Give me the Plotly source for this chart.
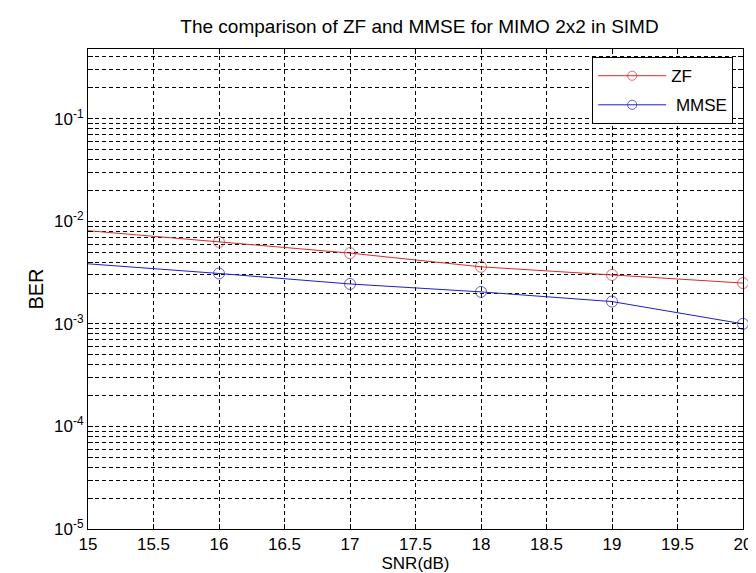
import plotly.graph_objects as go

snr = [15, 16, 17, 18, 19, 20]
ber_zf = [8.1e-3, 6.3e-3, 4.9e-3, 3.6e-3, 3.0e-3, 2.5e-3]
ber_mmse = [3.85e-3, 3.1e-3, 2.45e-3, 2.05e-3, 1.65e-3, 1.0e-3]
x_ticks = [15, 15.5, 16, 16.5, 17, 17.5, 18, 18.5, 19, 19.5, 20]
decades = [-5, -4, -3, -2, -1]

marker_sizes = [0] + [11] * (len(snr) - 1)

y_vals, y_text = [], []
for d in decades:
    for k in range(1, 10):
        v = k * 10.0 ** d
        if v > 0.47:
            break
        y_vals.append(v)
        y_text.append(f"10<sup>{d}</sup>" if k == 1 else "")

FONT = "Liberation Sans, Arial, sans-serif"
RED = "rgb(220,40,45)"
BLUE = "rgb(30,30,200)"
fig = go.Figure()
fig.add_trace(go.Scatter(
    x=snr, y=ber_zf, name="ZF", mode="lines+markers", legendgroup="a",
    line=dict(color=RED, width=1),
    marker=dict(symbol="circle-open", size=marker_sizes, color=RED, line=dict(width=1)),
    cliponaxis=False,
))
fig.add_trace(go.Scatter(
    x=snr, y=ber_mmse, name="\u00a0MMSE", mode="lines+markers", legendgroup="b",
    line=dict(color=BLUE, width=1),
    marker=dict(symbol="circle-open", size=marker_sizes, color=BLUE, line=dict(width=1)),
    cliponaxis=False,
))

fig.update_layout(
    width=756, height=573,
    margin=dict(l=80, r=13, t=41, b=52),
    paper_bgcolor="white", plot_bgcolor="white",
    font=dict(family=FONT, size=17, color="black"),
    title=dict(text="The comparison of ZF and MMSE for MIMO 2x2 in SIMD",
               x=(80 + 743) / 2 / 756, xanchor="center",
               y=1 - 18 / 573, yanchor="middle", yref="container",
               font=dict(size=19)),
    showlegend=True,
    legend=dict(x=0.985, y=0.983, xanchor="right", yanchor="top",
                bordercolor="black", borderwidth=1, bgcolor="white",
                itemwidth=68, tracegroupgap=4,
                font=dict(size=17)),
)
fig.update_xaxes(
    range=[15, 20], tickvals=x_ticks, ticktext=[f"{v:g}" for v in x_ticks],
    showline=True, linecolor="black", linewidth=1, mirror="ticks",
    ticks="inside", ticklen=5, tickcolor="black",
    showgrid=True, gridcolor="black", gridwidth=1, griddash="4px,3px",
    zeroline=False,
    title=dict(text="SNR(dB)", standoff=0, font=dict(size=17)),
)
fig.update_yaxes(
    type="log", range=[-5, -0.32], tickvals=y_vals, ticktext=y_text,
    showline=True, linecolor="black", linewidth=1, mirror="ticks",
    ticks="inside", ticklen=5, tickcolor="black",
    showgrid=True, gridcolor="black", gridwidth=1, griddash="4px,3px",
    zeroline=False,
    title=dict(text="BER", standoff=5),
)

fig.write_html("out.html")
